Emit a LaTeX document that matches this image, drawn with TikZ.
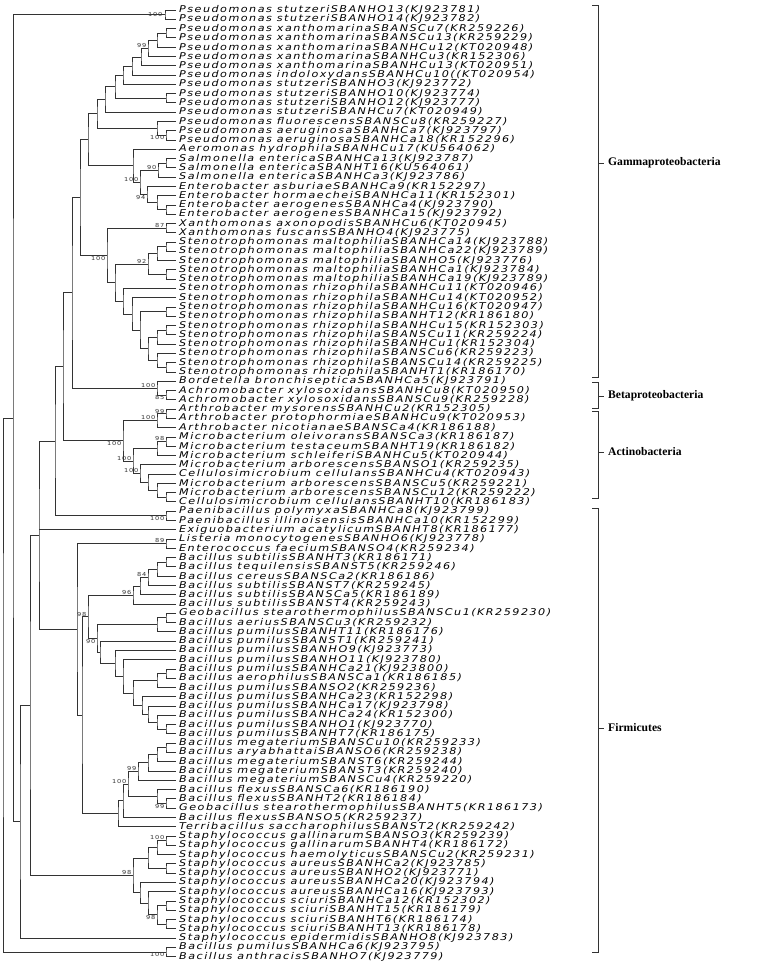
\documentclass[tikz,border=0pt]{standalone}
\usepackage{fontspec}
\usetikzlibrary{calc}
\newfontfamily\labfont{DejaVu Sans}[FakeStretch=1.2,LetterSpace=16]
\newfontfamily\grpfont{Liberation Serif}
\tikzset{
  br/.style={line width=0.75pt, draw=black!80},
  lab/.style={anchor=west, inner sep=0pt, font=\labfont\itshape\fontsize{9.3}{10}\selectfont, text=black},
  bsl/.style={inner sep=0.4pt, font=\labfont\fontsize{5.5}{5.5}\selectfont, text=black!80},
  grp/.style={line width=0.75pt, draw=black!80},
  gl/.style={anchor=west, inner sep=0pt, font=\grpfont\bfseries\fontsize{11.6}{13}\selectfont},
}
\newcommand\leaf[2]{\coordinate (L#1) at (176,{10+(#1-1)*9.28});\node[lab] (T#1) at ([xshift=3pt]L#1) {#2};}
\newcommand\clade[4]{\coordinate (t#1) at ($(#3)!.5!(#4)$);\coordinate (#1) at (#2,0 |- t#1);\draw[br] (#3) -| (#1) |- (#4);}
\newcommand\bsup[2]{\node[bsl,anchor=south east] (b#1) at ([xshift=-1pt]#1) {#2};}
\newcommand\bsdn[2]{\node[bsl,anchor=north east] (b#1) at ([xshift=-1pt]#1) {#2};}
\newcommand\bsmid[2]{\node[bsl,anchor=east] (b#1) at ([xshift=-2pt]#1) {#2};}
\begin{document}
\begin{tikzpicture}[x=1pt,y=-1pt]
\useasboundingbox (0,0) rectangle (778,965);
\leaf{1}{Pseudomonas stutzeriSBANHO13(KJ923781)}
\leaf{2}{Pseudomonas stutzeriSBANHO14(KJ923782)}
\leaf{3}{Pseudomonas xanthomarinaSBANSCu7(KR259226)}
\leaf{4}{Pseudomonas xanthomarinaSBANSCu13(KR259229)}
\leaf{5}{Pseudomonas xanthomarinaSBANHCu12(KT020948)}
\leaf{6}{Pseudomonas xanthomarinaSBANHCu3(KR152306)}
\leaf{7}{Pseudomonas xanthomarinaSBANHCu13(KT020951)}
\leaf{8}{Pseudomonas indoloxydansSBANHCu10((KT020954)}
\leaf{9}{Pseudomonas stutzeriSBANHO3(KJ923772)}
\leaf{10}{Pseudomonas stutzeriSBANHO10(KJ923774)}
\leaf{11}{Pseudomonas stutzeriSBANHO12(KJ923777)}
\leaf{12}{Pseudomonas stutzeriSBANHCu7(KT020949)}
\leaf{13}{Pseudomonas fluorescensSBANSCu8(KR259227)}
\leaf{14}{Pseudomonas aeruginosaSBANHCa7(KJ923797)}
\leaf{15}{Pseudomonas aeruginosaSBANHCa18(KR152296)}
\leaf{16}{Aeromonas hydrophilaSBANHCu17(KU564062)}
\leaf{17}{Salmonella entericaSBANHCa13(KJ923787)}
\leaf{18}{Salmonella entericaSBANHT16(KU564061)}
\leaf{19}{Salmonella entericaSBANHCa3(KJ923786)}
\leaf{20}{Enterobacter asburiaeSBANHCa9(KR152297)}
\leaf{21}{Enterobacter hormaecheiSBANHCa11(KR152301)}
\leaf{22}{Enterobacter aerogenesSBANHCa4(KJ923790)}
\leaf{23}{Enterobacter aerogenesSBANHCa15(KJ923792)}
\leaf{24}{Xanthomonas axonopodisSBANHCu6(KT020945)}
\leaf{25}{Xanthomonas fuscansSBANHO4(KJ923775)}
\leaf{26}{Stenotrophomonas maltophiliaSBANHCa14(KJ923788)}
\leaf{27}{Stenotrophomonas maltophiliaSBANHCa22(KJ923789)}
\leaf{28}{Stenotrophomonas maltophiliaSBANHO5(KJ923776)}
\leaf{29}{Stenotrophomonas maltophiliaSBANHCa1(KJ923784)}
\leaf{30}{Stenotrophomonas maltophiliaSBANHCa19(KJ923789)}
\leaf{31}{Stenotrophomonas rhizophilaSBANHCu11(KT020946)}
\leaf{32}{Stenotrophomonas rhizophilaSBANHCu14(KT020952)}
\leaf{33}{Stenotrophomonas rhizophilaSBANHCu16(KT020947)}
\leaf{34}{Stenotrophomonas rhizophilaSBANHT12(KR186180)}
\leaf{35}{Stenotrophomonas rhizophilaSBANHCu15(KR152303)}
\leaf{36}{Stenotrophomonas rhizophilaSBANSCu11(KR259224)}
\leaf{37}{Stenotrophomonas rhizophilaSBANHCu1(KR152304)}
\leaf{38}{Stenotrophomonas rhizophilaSBANSCu6(KR259223)}
\leaf{39}{Stenotrophomonas rhizophilaSBANSCu14(KR259225)}
\leaf{40}{Stenotrophomonas rhizophilaSBANHT1(KR186170)}
\leaf{41}{Bordetella bronchisepticaSBANHCa5(KJ923791)}
\leaf{42}{Achromobacter xylosoxidansSBANHCu8(KT020950)}
\leaf{43}{Achromobacter xylosoxidansSBANSCu9(KR259228)}
\leaf{44}{Arthrobacter mysorensSBANHCu2(KR152305)}
\leaf{45}{Arthrobacter protophormiaeSBANHCu9(KT020953)}
\leaf{46}{Arthrobacter nicotianaeSBANSCa4(KR186188)}
\leaf{47}{Microbacterium oleivoransSBANSCa3(KR186187)}
\leaf{48}{Microbacterium testaceumSBANHT19(KR186182)}
\leaf{49}{Microbacterium schleiferiSBANHCu5(KT020944)}
\leaf{50}{Microbacterium arborescensSBANSO1(KR259235)}
\leaf{51}{Cellulosimicrobium cellulansSBANHCu4(KT020943)}
\leaf{52}{Microbacterium arborescensSBANSCu5(KR259221)}
\leaf{53}{Microbacterium arborescensSBANSCu12(KR259222)}
\leaf{54}{Cellulosimicrobium cellulansSBANHT10(KR186183)}
\leaf{55}{Paenibacillus polymyxaSBANHCa8(KJ923799)}
\leaf{56}{Paenibacillus illinoisensisSBANHCa10(KR152299)}
\leaf{57}{Exiguobacterium acatylicumSBANHT8(KR186177)}
\leaf{58}{Listeria monocytogenesSBANHO6(KJ923778)}
\leaf{59}{Enterococcus faeciumSBANSO4(KR259234)}
\leaf{60}{Bacillus subtilisSBANHT3(KR186171)}
\leaf{61}{Bacillus tequilensisSBANST5(KR259246)}
\leaf{62}{Bacillus cereusSBANSCa2(KR186186)}
\leaf{63}{Bacillus subtilisSBANST7(KR259245)}
\leaf{64}{Bacillus subtilisSBANSCa5(KR186189)}
\leaf{65}{Bacillus subtilisSBANST4(KR259243)}
\leaf{66}{Geobacillus stearothermophilusSBANSCu1(KR259230)}
\leaf{67}{Bacillus aeriusSBANSCu3(KR259232)}
\leaf{68}{Bacillus pumilusSBANHT11(KR186176)}
\leaf{69}{Bacillus pumilusSBANST1(KR259241)}
\leaf{70}{Bacillus pumilusSBANHO9(KJ923773)}
\leaf{71}{Bacillus pumilusSBANHO11(KJ923780)}
\leaf{72}{Bacillus pumilusSBANHCa21(KJ923800)}
\leaf{73}{Bacillus aerophilusSBANSCa1(KR186185)}
\leaf{74}{Bacillus pumilusSBANSO2(KR259236)}
\leaf{75}{Bacillus pumilusSBANHCa23(KR152298)}
\leaf{76}{Bacillus pumilusSBANHCa17(KJ923798)}
\leaf{77}{Bacillus pumilusSBANHCa24(KR152300)}
\leaf{78}{Bacillus pumilusSBANHO1(KJ923770)}
\leaf{79}{Bacillus pumilusSBANHT7(KR186175)}
\leaf{80}{Bacillus megateriumSBANSCu10(KR259233)}
\leaf{81}{Bacillus aryabhattaiSBANSO6(KR259238)}
\leaf{82}{Bacillus megateriumSBANST6(KR259244)}
\leaf{83}{Bacillus megateriumSBANST3(KR259240)}
\leaf{84}{Bacillus megateriumSBANSCu4(KR259220)}
\leaf{85}{Bacillus flexusSBANSCa6(KR186190)}
\leaf{86}{Bacillus flexusSBANHT2(KR186184)}
\leaf{87}{Geobacillus stearothermophilusSBANHT5(KR186173)}
\leaf{88}{Bacillus flexusSBANSO5(KR259237)}
\leaf{89}{Terribacillus saccharophilusSBANST2(KR259242)}
\leaf{90}{Staphylococcus gallinarumSBANSO3(KR259239)}
\leaf{91}{Staphylococcus gallinarumSBANHT4(KR186172)}
\leaf{92}{Staphylococcus haemolyticusSBANSCu2(KR259231)}
\leaf{93}{Staphylococcus aureusSBANHCa2(KJ923785)}
\leaf{94}{Staphylococcus aureusSBANHO2(KJ923771)}
\leaf{95}{Staphylococcus aureusSBANHCa20(KJ923794)}
\leaf{96}{Staphylococcus aureusSBANHCa16(KJ923793)}
\leaf{97}{Staphylococcus sciuriSBANHCa12(KR152302)}
\leaf{98}{Staphylococcus sciuriSBANHT15(KR186179)}
\leaf{99}{Staphylococcus sciuriSBANHT6(KR186174)}
\leaf{100}{Staphylococcus sciuriSBANHT13(KR186178)}
\leaf{101}{Staphylococcus epidermidisSBANHO8(KJ923783)}
\leaf{102}{Bacillus pumilusSBANHCa6(KJ923795)}
\leaf{103}{Bacillus anthracisSBANHO7(KJ923779)}
% Pseudomonas
\clade{pa12}{165}{L1}{L2}
\clade{p1}{166}{L3}{L4}
\clade{p2}{157}{p1}{L5}
\clade{p3}{148}{p2}{L6}
\clade{p4}{141}{p3}{L7}
\clade{p5}{132}{p4}{L8}
\clade{p6}{123}{p5}{L9}
\clade{p7}{166}{L10}{L11}
\clade{p8}{115}{p6}{p7}
\clade{p9}{105}{p8}{L12}
\clade{f1}{166}{L14}{L15}
\clade{f2}{157}{L13}{f1}
\clade{p10}{97}{p9}{f2}
% Enterobacteriaceae
\clade{s1}{166}{L17}{L18}
\clade{s2}{158}{s1}{L19}
\clade{e1}{166}{L22}{L23}
\clade{e2}{157}{L21}{e1}
\clade{e3}{147}{L20}{e2}
\clade{se}{140}{s2}{e3}
\clade{ae}{133}{L16}{se}
\clade{pe}{88}{p10}{ae}
% Xanthomonadaceae
\clade{x1}{166}{L24}{L25}
\clade{m1}{166}{L26}{L27}
\clade{m2}{157}{m1}{L28}
\clade{m3}{166}{L29}{L30}
\clade{m4}{148}{m2}{m3}
\clade{r1}{166}{L33}{L34}
\clade{r2}{166}{L35}{L36}
\clade{r3}{157}{r2}{L37}
\clade{r4}{166}{L39}{L40}
\clade{r5}{157}{L38}{r4}
\clade{r6}{148}{r3}{r5}
\clade{r7}{140}{r1}{r6}
\clade{r8}{132}{L32}{r7}
\clade{r9}{123}{L31}{r8}
\clade{st}{115}{m4}{r9}
\clade{xs}{107}{x1}{st}
\clade{gam}{80}{pe}{xs}
\clade{b1}{166}{L42}{L43}
\clade{b2}{157}{L41}{b1}
\clade{gb}{72}{gam}{b2}
% Actinobacteria
\clade{a1}{166}{L44}{L45}
\clade{a2}{157}{a1}{L46}
\clade{mi1}{166}{L47}{L48}
\clade{mi2}{157}{mi1}{L49}
\clade{c1}{166}{L53}{L54}
\clade{c2}{157}{L52}{c1}
\clade{c3}{148}{L51}{c2}
\clade{c4}{140}{L50}{c3}
\clade{c5}{133}{mi2}{c4}
\clade{ac}{123}{a2}{c5}
\clade{gba}{63}{gb}{ac}
\clade{pa}{166}{L55}{L56}
\clade{gbap}{55}{gba}{pa}
% Firmicutes
\clade{le}{166}{L58}{L59}
\clade{bs1}{166}{L60}{L61}
\clade{bs2}{157}{bs1}{L62}
\clade{bs3}{148}{bs2}{L63}
\clade{bs4}{140}{bs3}{L64}
\clade{bs5}{133}{bs4}{L65}
\clade{g1}{166}{L66}{L67}
\clade{g2}{157}{g1}{L68}
\clade{q1}{166}{L72}{L73}
\clade{q2}{157}{q1}{L74}
\clade{q3}{166}{L78}{L79}
\clade{q4}{157}{L77}{q3}
\clade{q5}{148}{L76}{q4}
\clade{q6}{142}{L75}{q5}
\clade{q7}{133}{q2}{q6}
\clade{q8}{123}{L71}{q7}
\clade{q9}{115}{L70}{q8}
\clade{q10}{100}{L69}{q9}
\clade{q11}{97}{g2}{q10}
\clade{bA}{88}{bs5}{q11}
\clade{mg1}{166}{L80}{L81}
\clade{mg2}{157}{mg1}{L82}
\clade{mg3}{148}{mg2}{L83}
\clade{mg4}{138}{mg3}{L84}
\clade{fl1}{166}{L86}{L87}
\clade{fl2}{157}{L85}{fl1}
\clade{mf}{128}{mg4}{fl2}
\clade{mf2}{123}{mf}{L88}
\clade{mf3}{118}{mf2}{L89}
\clade{bB}{82}{bA}{mf3}
\clade{bac}{77}{le}{bB}
\clade{E}{39}{gbap}{bac}
\draw[br] (E |- L57) -- (L57);
% Staphylococcus
\clade{sg1}{166}{L90}{L91}
\clade{sg2}{157}{sg1}{L92}
\clade{sa}{166}{L93}{L94}
\clade{sg3}{148}{sg2}{sa}
\clade{sc1}{166}{L97}{L98}
\clade{sc2}{166}{L99}{L100}
\clade{sc3}{157}{sc1}{sc2}
\clade{sc4}{148}{L96}{sc3}
\clade{sc5}{140}{L95}{sc4}
\clade{sta}{133}{sg3}{sc5}
% backbone
\clade{D}{30}{E}{sta}
\clade{C}{20}{D}{L101}
\clade{A}{13}{pa12}{C}
\clade{P}{166}{L102}{L103}
\clade{R}{3}{A}{P}
% bootstrap values
\bsmid{pa12}{100}
\bsup{p3}{99}
\bsdn{f1}{100}
\bsup{se}{100}
\bsup{s2}{90}
\bsdn{e3}{94}
\bsup{x1}{87}
\bsdn{xs}{100}
\bsup{m4}{92}
\bsup{b2}{100}
\bsdn{b1}{85}
\bsup{a1}{99}
\bsup{a2}{100}
\bsup{mi1}{98}
\bsdn{ac}{100}
\bsup{c4}{100}
\bsup{c5}{100}
\bsdn{pa}{100}
\bsup{le}{89}
\bsup{bs3}{84}
\bsup{bs5}{96}
\bsup{bA}{98}
\bsdn{q11}{90}
\bsup{mg4}{99}
\bsup{mf}{100}
\bsdn{fl1}{99}
\bsup{sg1}{100}
\bsup{sta}{98}
\bsdn{sc3}{98}
\bsdn{P}{100}
% group brackets
\draw[grp] (592,5) -- (598,5) -- (598,377) -- (592,377);
\draw[grp] (598,163) -- (604,163);
\node[gl] (g1) at (608,163) {Gammaproteobacteria};
\draw[grp] (592,382) -- (598,382) -- (598,408) -- (592,408);
\draw[grp] (598,396) -- (604,396);
\node[gl] (g2) at (608,396) {Betaproteobacteria};
\draw[grp] (592,411) -- (598,411) -- (598,498) -- (592,498);
\draw[grp] (598,452) -- (604,452);
\node[gl] (g3) at (608,452) {Actinobacteria};
\draw[grp] (592,508) -- (598,508) -- (598,952) -- (592,952);
\draw[grp] (598,728) -- (604,728);
\node[gl] (g4) at (608,728) {Firmicutes};
\end{tikzpicture}
\end{document}
